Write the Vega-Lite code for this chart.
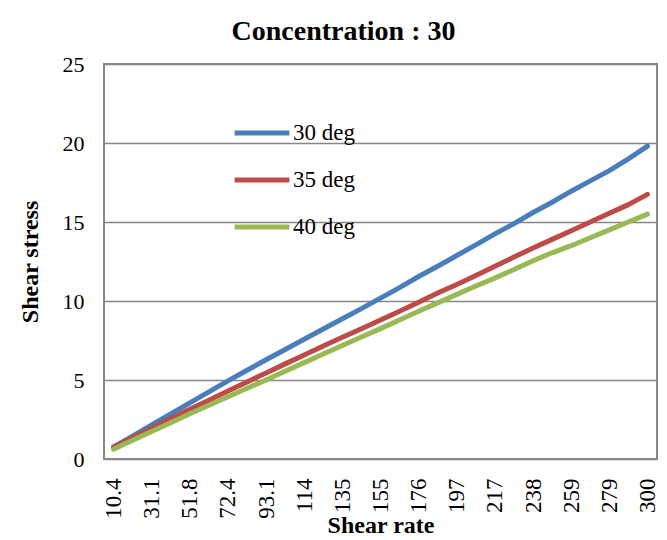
{
  "$schema": "https://vega.github.io/schema/vega-lite/v6.json",
  "width": 553,
  "height": 395,
  "autosize": "none",
  "padding": {"left": 104, "top": 64, "right": 10, "bottom": 81},
  "background": "white",
  "title": {
    "text": "Concentration : 30",
    "font": "Liberation Serif",
    "fontSize": 28,
    "fontWeight": "bold",
    "color": "black",
    "anchor": "middle",
    "dx": -37,
    "offset": 7
  },
  "config": {
    "view": {"stroke": "#868686", "strokeWidth": 2},
    "font": "Liberation Serif"
  },
  "data": {
    "values": [
      {"rate": "10.4", "i": 0, "s30": 0.76, "s35": 0.75, "s40": 0.62},
      {"rate": "20.7", "i": 1, "s30": 1.45, "s35": 1.35, "s40": 1.18},
      {"rate": "31.1", "i": 2, "s30": 2.15, "s35": 1.95, "s40": 1.74},
      {"rate": "41.4", "i": 3, "s30": 2.85, "s35": 2.55, "s40": 2.3},
      {"rate": "51.8", "i": 4, "s30": 3.55, "s35": 3.15, "s40": 2.86},
      {"rate": "62.1", "i": 5, "s30": 4.25, "s35": 3.72, "s40": 3.4},
      {"rate": "72.4", "i": 6, "s30": 4.95, "s35": 4.3, "s40": 3.94},
      {"rate": "82.8", "i": 7, "s30": 5.62, "s35": 4.88, "s40": 4.48},
      {"rate": "93.1", "i": 8, "s30": 6.28, "s35": 5.45, "s40": 5.0},
      {"rate": "103", "i": 9, "s30": 6.93, "s35": 6.02, "s40": 5.55},
      {"rate": "114", "i": 10, "s30": 7.58, "s35": 6.58, "s40": 6.1},
      {"rate": "124", "i": 11, "s30": 8.23, "s35": 7.15, "s40": 6.64},
      {"rate": "135", "i": 12, "s30": 8.88, "s35": 7.7, "s40": 7.18},
      {"rate": "145", "i": 13, "s30": 9.52, "s35": 8.25, "s40": 7.72},
      {"rate": "155", "i": 14, "s30": 10.18, "s35": 8.8, "s40": 8.25},
      {"rate": "166", "i": 15, "s30": 10.85, "s35": 9.35, "s40": 8.8},
      {"rate": "176", "i": 16, "s30": 11.55, "s35": 9.92, "s40": 9.35},
      {"rate": "186", "i": 17, "s30": 12.2, "s35": 10.5, "s40": 9.88},
      {"rate": "197", "i": 18, "s30": 12.88, "s35": 11.05, "s40": 10.42},
      {"rate": "207", "i": 19, "s30": 13.55, "s35": 11.62, "s40": 10.95},
      {"rate": "217", "i": 20, "s30": 14.25, "s35": 12.2, "s40": 11.45},
      {"rate": "228", "i": 21, "s30": 14.9, "s35": 12.78, "s40": 12.0},
      {"rate": "238", "i": 22, "s30": 15.6, "s35": 13.35, "s40": 12.55},
      {"rate": "248", "i": 23, "s30": 16.25, "s35": 13.9, "s40": 13.05},
      {"rate": "259", "i": 24, "s30": 16.95, "s35": 14.45, "s40": 13.5},
      {"rate": "269", "i": 25, "s30": 17.6, "s35": 15.0, "s40": 14.0},
      {"rate": "279", "i": 26, "s30": 18.25, "s35": 15.55, "s40": 14.5},
      {"rate": "290", "i": 27, "s30": 19.0, "s35": 16.1, "s40": 15.0},
      {"rate": "300", "i": 28, "s30": 19.8, "s35": 16.75, "s40": 15.5}
    ]
  },
  "transform": [
    {"fold": ["s30", "s35", "s40"], "as": ["key", "stress"]},
    {"lookup": "key", "from": {"data": {"values": [
      {"key": "s30", "series": "30 deg"},
      {"key": "s35", "series": "35 deg"},
      {"key": "s40", "series": "40 deg"}
    ]}, "key": "key", "fields": ["series"]}}
  ],
  "mark": {"type": "line", "strokeWidth": 5, "strokeCap": "round", "strokeJoin": "round"},
  "encoding": {
    "x": {
      "field": "rate",
      "type": "ordinal",
      "sort": {"field": "i", "op": "min"},
      "scale": {"type": "point", "padding": 0.5},
      "axis": {
        "title": "Shear rate",
        "titleFont": "Liberation Serif",
        "titleFontSize": 24,
        "titleFontWeight": "bold",
        "titleColor": "black",
        "titleY": 73,
        "titleBaseline": "alphabetic",
        "values": ["10.4", "31.1", "51.8", "72.4", "93.1", "114", "135", "155", "176", "197", "217", "238", "259", "279", "300"],
        "labelAngle": -90,
        "labelFont": "Liberation Serif",
        "labelFontSize": 23,
        "labelColor": "black",
        "labelPadding": 19,
        "labelOverlap": false,
        "ticks": false,
        "domain": false,
        "grid": false
      }
    },
    "y": {
      "field": "stress",
      "type": "quantitative",
      "scale": {"domain": [0, 25], "nice": false},
      "axis": {
        "title": "Shear stress",
        "titleFont": "Liberation Serif",
        "titleFontSize": 24,
        "titleFontWeight": "bold",
        "titleColor": "black",
        "titlePadding": 20,
        "values": [0, 5, 10, 15, 20, 25],
        "labelFont": "Liberation Serif",
        "labelFontSize": 22,
        "labelColor": "black",
        "labelPadding": 20,
        "ticks": false,
        "domain": false,
        "grid": true,
        "gridColor": "#868686",
        "gridWidth": 1.5
      }
    },
    "color": {
      "field": "series",
      "type": "nominal",
      "scale": {"domain": ["30 deg", "35 deg", "40 deg"], "range": ["#4A7EBB", "#BE4B48", "#98B954"]},
      "legend": {
        "title": null,
        "orient": "none",
        "legendX": 128,
        "legendY": 39,
        "symbolType": "stroke",
        "symbolSize": 3000,
        "symbolStrokeWidth": 5,
        "labelFont": "Liberation Serif",
        "labelFontSize": 23,
        "labelColor": "black",
        "labelOffset": 1,
        "rowPadding": 5,
        "labelLimit": 200
      }
    }
  }
}
